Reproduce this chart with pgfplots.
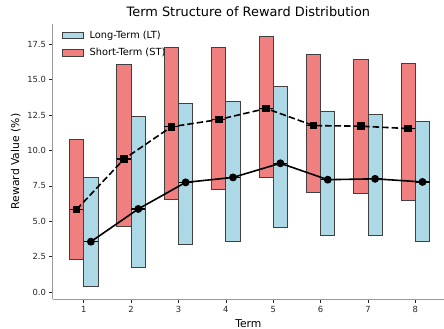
\documentclass[border=0pt]{standalone}
\usepackage{pgfplots}
\pgfplotsset{compat=1.18}
\usepgfplotslibrary{statistics}
\usepackage{fontspec}
\setmainfont{DejaVu Sans}
\definecolor{stc}{HTML}{F08080}
\definecolor{ltc}{HTML}{ADD8E6}
\definecolor{spinec}{HTML}{9A9A9A}
\definecolor{txt}{HTML}{262626}
\pgfplotsset{rectlegend/.style={legend image code/.code={\draw[##1] (0bp,-3.3bp) rectangle (20.5bp,3.3bp); \path[draw=none,fill=none] (0bp,0bp) -- (25bp,0bp);}}}
\newcommand\bx[5]{% color, pos, lo, med, hi
  \addplot[forget plot, fill=#1, draw=black!75, line width=0.9bp,
    boxplot prepared={draw direction=y, draw position=#2, lower whisker=#3, lower quartile=#3,
      median=#4, upper quartile=#5, upper whisker=#5, box extend=0.3}]
    coordinates {};}
\begin{document}
\begin{tikzpicture}
\begin{axis}[
  scale only axis, width=390.8bp, height=275bp,
  xmin=0.35, xmax=8.6, ymin=-0.49, ymax=18.94,
  axis x line*=bottom, axis y line*=left,
  axis line style={spinec, line width=1bp, -},
  tick align=outside, major tick length=3.5bp,
  tick style={black!85, line width=0.8bp},
  xtick={1,2,3,4,5,6,7,8},
  ytick={0,2.5,5,7.5,10,12.5,15,17.5},
  yticklabel style={/pgf/number format/.cd, fixed, fixed zerofill, precision=1},
  /pgf/number format/assume math mode=true,
  ticklabel style={font=\fontsize{8.4bp}{10bp}\selectfont, color=txt},
  xlabel={Term}, ylabel={Reward Value (\%)},
  label style={font=\fontsize{10.8bp}{13bp}\selectfont, color=black},
  title={Term Structure of Reward Distribution},
  title style={font=\fontsize{12.9bp}{15bp}\selectfont, yshift=-2bp},
  boxplot/draw direction=y,
  boxplot/draw/lower whisker/.code={},
  boxplot/draw/upper whisker/.code={},
  boxplot/every median/.style={black, line width=1.1bp},
  legend style={at={(0.018,0.99)}, anchor=north west, draw=none, fill=none,
    font=\fontsize{9.8bp}{11.5bp}\selectfont, row sep=4.5bp, inner sep=2bp},
  legend cell align=left,
]
\addlegendimage{rectlegend, fill=ltc, draw=black!75, line width=0.9bp}
\addlegendentry{Long-Term (LT)}
\addlegendimage{rectlegend, fill=stc, draw=black!75, line width=0.9bp}
\addlegendentry{Short-Term (ST)}
% Short-term ranges (pos, low, mean, high)
\bx{stc}{0.85}{2.31}{5.84}{10.81}
\bx{stc}{1.85}{4.62}{9.40}{16.11}
\bx{stc}{2.85}{6.52}{11.68}{17.29}
\bx{stc}{3.85}{7.28}{12.19}{17.30}
\bx{stc}{4.85}{8.10}{12.97}{18.05}
\bx{stc}{5.85}{7.07}{11.76}{16.77}
\bx{stc}{6.85}{7.00}{11.72}{16.44}
\bx{stc}{7.85}{6.50}{11.55}{16.13}
% Long-term ranges
\bx{ltc}{1.15}{0.42}{3.56}{8.08}
\bx{ltc}{2.15}{1.74}{5.87}{12.42}
\bx{ltc}{3.15}{3.37}{7.75}{13.31}
\bx{ltc}{4.15}{3.60}{8.10}{13.50}
\bx{ltc}{5.15}{4.60}{9.10}{14.53}
\bx{ltc}{6.15}{3.97}{7.94}{12.78}
\bx{ltc}{7.15}{4.00}{8.00}{12.57}
\bx{ltc}{8.15}{3.57}{7.78}{12.02}
% mean lines
\addplot[forget plot, black, line width=1.6bp, dash pattern=on 6.5bp off 3bp,
  mark=square*, mark size=3bp, mark options={solid}]
  coordinates {(0.85,5.84)(1.85,9.40)(2.85,11.68)(3.85,12.19)(4.85,12.97)(5.85,11.76)(6.85,11.72)(7.85,11.55)};
\addplot[forget plot, black, line width=1.6bp, mark=*, mark size=3.1bp]
  coordinates {(1.15,3.56)(2.15,5.87)(3.15,7.75)(4.15,8.10)(5.15,9.10)(6.15,7.94)(7.15,8.00)(8.15,7.78)};
\end{axis}
\pgfresetboundingbox
\path (current axis.south west) ++(-53bp,-30bp) rectangle ++(444bp,329bp);
\end{tikzpicture}
\end{document}
